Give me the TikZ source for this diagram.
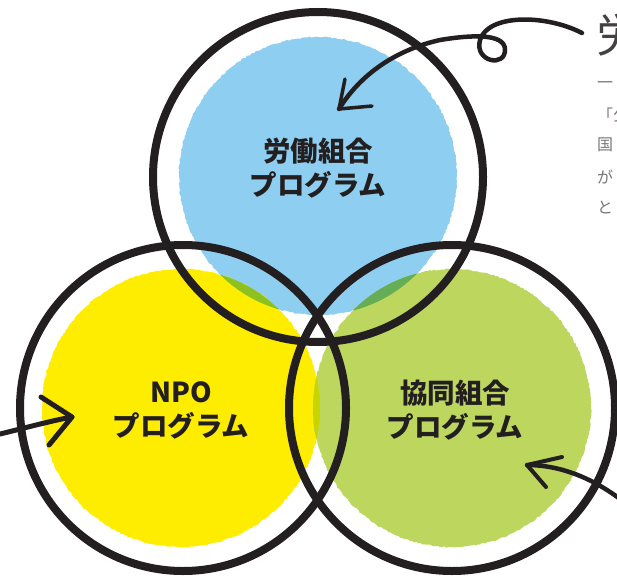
\documentclass[tikz,border=0pt]{standalone}
\usepackage{fontspec}
\newfontfamily\jp{Noto Sans CJK JP}
\usetikzlibrary{decorations.pathmorphing}
\definecolor{ring}{HTML}{231F20}
\definecolor{cblue}{HTML}{8ECEF0}
\definecolor{cyellow}{HTML}{FFED00}
\definecolor{cgreen}{HTML}{BCD65E}
\definecolor{cby}{HTML}{8CC11F}
\definecolor{cbg}{HTML}{66AE56}
\definecolor{cyg}{HTML}{C8D400}
\definecolor{side}{HTML}{7A7676}
\tikzset{
  rough/.style={decorate,decoration={random steps,segment length=2pt,amplitude=0.7pt}},
  ringline/.style={draw=ring,line width=8pt},
  lbl/.style={align=center,text=ring,font=\jp\bfseries\fontsize{27.5}{34}\selectfont,inner sep=0pt},
  arr/.style={draw=ring,line width=4pt,line cap=round,line join=round},
  sidetxt/.style={anchor=west,text=side,font=\jp\fontsize{16}{16}\selectfont,inner sep=0pt}
}
\begin{document}
\begin{tikzpicture}[x=1pt,y=-1pt]
\useasboundingbox (0,0) rectangle (617,580);
\pgfmathsetseed{7}
\coordinate (cT) at (318,176);
\coordinate (cL) at (181,408);
\coordinate (cR) at (452,408);
\coordinate (rT) at (318,177);
\coordinate (rL) at (183,408);
\coordinate (rR) at (452,408);
% fills
\fill[cblue,rough] (cT) circle[radius=139pt];
\fill[cyellow,rough] (cL) circle[radius=139pt];
\fill[cgreen,rough] (cR) circle[radius=139pt];
\begin{scope}
  \clip (cT) circle[radius=139pt];
  \fill[cby] (cL) circle[radius=139pt];
  \fill[cbg] (cR) circle[radius=139pt];
\end{scope}
\begin{scope}
  \clip (cL) circle[radius=139pt];
  \fill[cyg] (cR) circle[radius=139pt];
\end{scope}
% rings
\draw[ringline] (rT) circle[radius=165pt];
\draw[ringline] (rL) circle[radius=163pt];
\draw[ringline] (rR) circle[radius=163pt];
% labels
\node[lbl] (tT) at (318,168) {労働組合\\プログラム};
\node[lbl] (tL) at (181,410) {NPO\\プログラム};
\node[lbl] (tR) at (455,410) {協同組合\\プログラム};
% side texts
\node[anchor=west,text=ring!85,font=\jp\fontsize{46}{46}\selectfont,inner sep=0pt] (title) at (596,35) {労};
\node[sidetxt] (s1) at (597,85) {一};
\node[sidetxt] (s2) at (597,115) {「公};
\node[sidetxt] (s3) at (597,145) {国};
\node[sidetxt] (s4) at (597,177) {が};
\node[sidetxt] (s5) at (597,207) {と};
% arrows
\coordinate (a1s) at (582,33);
\coordinate (a1t) at (339,109);
\draw[arr,line width=4.5pt] (a1s) .. controls (545,14) and (488,14) .. (480,40)
  .. controls (474,62) and (506,68) .. (505,49)
  .. controls (504,33) and (470,35) .. (440,40)
  .. controls (395,50) and (360,75) .. (a1t);
\draw[arr,line width=3.5pt] (345,79) -- (a1t) -- (372,106);
\coordinate (a2s) at (0,434);
\coordinate (a2t) at (72,417);
\draw[arr,line width=5pt] (a2s) .. controls (25,428) and (50,421) .. (a2t);
\draw[arr,line width=5pt] (41,397) -- (a2t) -- (49,445);
\coordinate (a3s) at (620,499);
\coordinate (a3t) at (527,465);
\draw[arr,line width=4.5pt] (a3s) .. controls (592,478) and (560,465) .. (a3t);
\draw[arr,line width=4pt] (562,457) -- (a3t) -- (546,487);
\end{tikzpicture}
\end{document}
